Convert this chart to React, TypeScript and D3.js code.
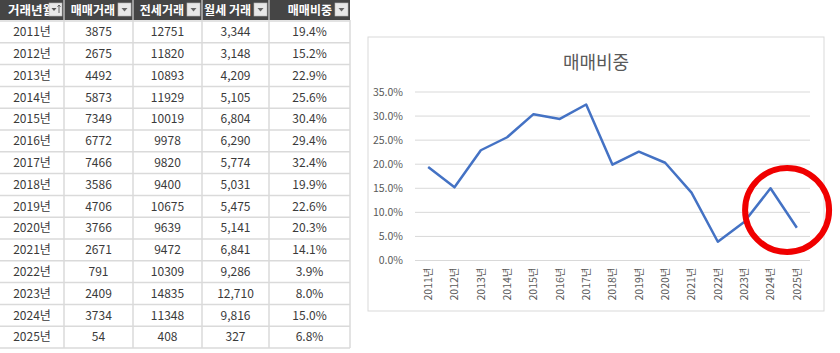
import * as d3 from "d3";

// table / chart data
const years = ["2011년", "2012년", "2013년", "2014년", "2015년", "2016년", "2017년", "2018년", "2019년", "2020년", "2021년", "2022년", "2023년", "2024년", "2025년"];
const saleCounts = [3875, 2675, 4492, 5873, 7349, 6772, 7466, 3586, 4706, 3766, 2671, 791, 2409, 3734, 54];
const jeonseCounts = [12751, 11820, 10893, 11929, 10019, 9978, 9820, 9400, 10675, 9639, 9472, 10309, 14835, 11348, 408];
const monthlyCounts = [3344, 3148, 4209, 5105, 6804, 6290, 5774, 5031, 5475, 5141, 6841, 9286, 12710, 9816, 327];
const saleShare = [19.4, 15.2, 22.9, 25.6, 30.4, 29.4, 32.4, 19.9, 22.6, 20.3, 14.1, 3.9, 8.0, 15.0, 6.8];
const headers = ["거래년월", "매매거래", "전세거래", "월세 거래", "매매비중"];
const yTicks = [0, 5, 10, 15, 20, 25, 30, 35];
const chartTitle = "매매비중";

const FONT = "'Noto Sans CJK KR', 'Noto Sans', sans-serif";

// table layout
const colEdges = [0, 64, 133, 202, 269, 350];
const headerH = 20;
const rowH = 21.8;

function Table() {
  const fmtComma = d3.format(",");
  const rows = years.map((y, i) => [y, String(saleCounts[i]), String(jeonseCounts[i]), fmtComma(monthlyCounts[i]), saleShare[i].toFixed(1) + "%"]);
  const rowY = d3.scaleLinear().domain([0, 1]).range([headerH + 1, headerH + 1 + rowH]);
  const bottom = rowY(rows.length);

  return (
    <g fontFamily={FONT}>
      {/* header */}
      <rect x={0} y={0} width={colEdges[5]} height={headerH} fill="#454545" />
      {headers.map((h, c) => {
        const bx = colEdges[c + 1] - 15;
        return (
          <g key={h}>
            {c === 0 ? (
              <text x={8} y={14.5} fill="#fff" fontSize={12.5} fontWeight={700}>{h}</text>
            ) : (
              <text x={bx - 3} y={14.5} fill="#fff" fontSize={12} fontWeight={700} textAnchor="end">{h}</text>
            )}
            <rect x={bx} y={3} width={13} height={13} fill="#e8e8e8" stroke="#b8b8b8" strokeWidth={0.6} />
            {c === 0 ? (
              <g>
                <path d={`M${bx + 2.5},${8} l2.5,3 l2.5,-3 Z`} fill="#555" />
                <path d={`M${bx + 10},${5} v8 M${bx + 8.5},${6.8} l1.5,-1.8 l1.5,1.8`} stroke="#555" strokeWidth={0.9} fill="none" />
              </g>
            ) : (
              <path d={`M${bx + 3.5},${8} l3,3.5 l3,-3.5 Z`} fill="#666" />
            )}
          </g>
        );
      })}
      {/* body */}
      <rect x={0} y={headerH} width={colEdges[5]} height={bottom - headerH} fill="#fff" />
      {rows.map((r, i) => (
        <g key={r[0]}>
          {r.map((v, c) => (
            <text key={c} x={(colEdges[c] + colEdges[c + 1]) / 2} y={rowY(i) + rowH / 2} dy="0.36em" textAnchor="middle" fontSize={12} fill="#3a3a3a">{v}</text>
          ))}
        </g>
      ))}
      {d3.range(rows.length + 1).map((i) => (
        <line key={"h" + i} x1={0} x2={colEdges[5]} y1={rowY(i)} y2={rowY(i)} stroke="#dadada" strokeWidth={1.5} />
      ))}
      {colEdges.slice(1).map((x, i) => (
        <line key={"v" + i} x1={x} x2={x} y1={headerH} y2={bottom} stroke="#dadada" strokeWidth={1.5} />
      ))}
      {colEdges.slice(1, 5).map((x, i) => (
        <line key={"hv" + i} x1={x} x2={x} y1={0} y2={headerH} stroke="#f2f2f2" strokeWidth={1} />
      ))}
    </g>
  );
}

function LineChart() {
  const box = { x: 368, y: 37, w: 456, h: 274 };
  const plot = { left: 415, right: 810, top: 92, bottom: 260.5 };

  const x = d3.scaleBand().domain(years).range([plot.left, plot.right]);
  const y = d3.scaleLinear().domain([0, 35]).range([plot.bottom, plot.top]);
  const cx = (d: string) => (x(d) as number) + x.bandwidth() / 2;

  const line = d3.line<number>().x((_, i) => cx(years[i])).y((d) => y(d));

  // red annotation ring around the last two points
  const ringX = cx(years[13]) + x.bandwidth() * 0.63;
  const ringY = y(10.5);

  return (
    <g fontFamily={FONT}>
      <rect x={box.x} y={box.y} width={box.w} height={box.h} fill="#fff" stroke="#d9d9d9" strokeWidth={1} />
      <text x={box.x + box.w / 2} y={69} textAnchor="middle" fontSize={18} fill="#595959">{chartTitle}</text>
      {yTicks.map((t) => (
        <g key={t}>
          <line x1={plot.left} x2={plot.right} y1={y(t)} y2={y(t)} stroke="#d9d9d9" strokeWidth={1} />
          <text x={403} y={y(t)} dy="0.35em" textAnchor="end" fontSize={10.5} fill="#595959">{t.toFixed(1) + "%"}</text>
        </g>
      ))}
      {years.map((yr) => (
        <text key={yr} transform={`translate(${cx(yr)},${plot.bottom + 7}) rotate(-90)`} textAnchor="end" dy="0.35em" fontSize={10.5} fill="#595959">{yr}</text>
      ))}
      <path d={line(saleShare) || ""} fill="none" stroke="#4472c4" strokeWidth={2.5} strokeLinejoin="round" />
      <circle cx={ringX} cy={ringY} r={42} fill="none" stroke="#f00000" strokeWidth={6} />
    </g>
  );
}

export default function App() {
  return (
    <svg width={840} height={353} style={{ position: "absolute", left: 0, top: 0, background: "#fff" }}>
      <rect width={840} height={353} fill="#fff" />
      <Table />
      <LineChart />
    </svg>
  );
}
